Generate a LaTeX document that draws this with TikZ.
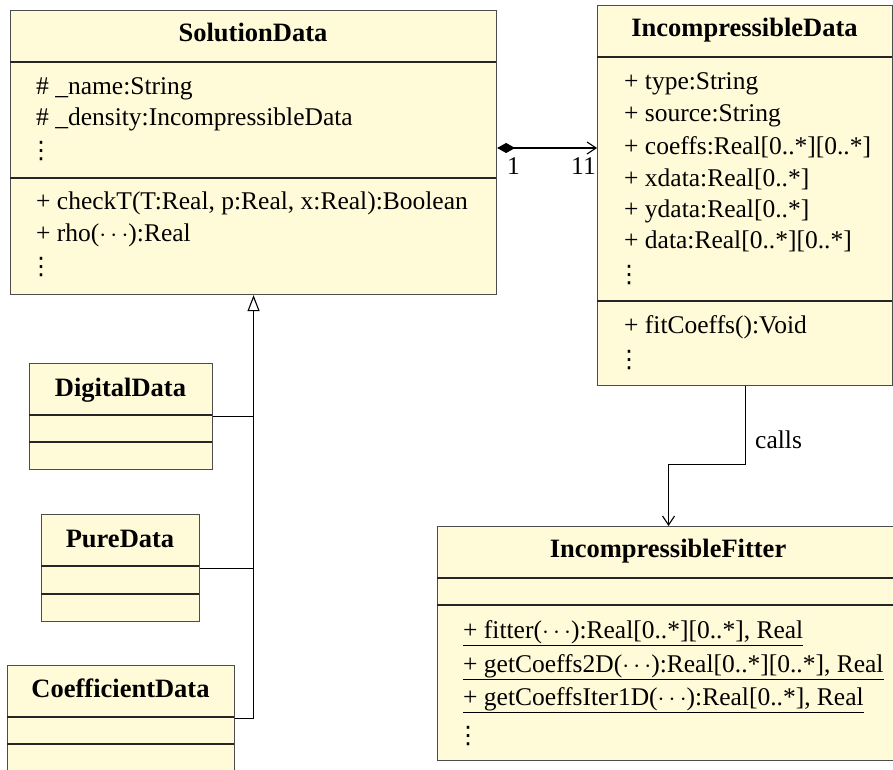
\documentclass[tikz,border=0pt]{standalone}
\usepackage{fontspec}
\setmainfont{Liberation Serif}
\newfontfamily\dvu{DejaVu Sans}
\usetikzlibrary{arrows.meta}
\definecolor{classfill}{RGB}{255,250,215}
\newcommand\vdts{{\dvu\fontsize{24}{24}\selectfont ⋮}}
\tikzset{
  classbox/.style={draw=black!70, fill=classfill, line width=1.1pt, rectangle, inner sep=0pt, anchor=north west},
  sepline/.style={draw=black!85, line width=1.1pt},
  txt/.style={anchor=base west, inner sep=0pt, font=\fontsize{25.5}{31}\selectfont},
  ttl/.style={anchor=base, inner sep=0pt, font=\fontsize{26.5}{31}\selectfont\bfseries},
  conn/.style={draw=black, line width=1.1pt},
}
\begin{document}
\begin{tikzpicture}[x=1pt,y=-1pt]
\useasboundingbox (0,0) rectangle (893,770);
\clip (0,0) rectangle (893,770);
% SolutionData
\node[classbox, minimum width=486pt, minimum height=284pt] (sd) at (10,10) {};
\draw[sepline] (10,62) -- (496,62);
\draw[sepline] (10,178) -- (496,178);
\node[ttl] (sdt) at (253,42) {SolutionData};
\node[txt] (sda1) at (36,95) {\# \_name:String};
\node[txt] (sda2) at (36,126) {\# \_density:IncompressibleData};
\node[txt] (sda3) at (29,159) {\vdts};
\node[txt] (sdm1) at (36,209) {+ checkT(T:Real, p:Real, x:Real):Boolean};
\node[txt] (sdm2) at (36,241) {+ rho($\cdots$):Real};
\node[txt] (sdm3) at (29,274) {\vdts};
% IncompressibleData
\node[classbox, minimum width=295pt, minimum height=380pt] (id) at (597,5) {};
\draw[sepline] (597,57) -- (892,57);
\draw[sepline] (597,301) -- (892,301);
\node[ttl] (idt) at (744.5,37) {IncompressibleData};
\node[txt] (ida1) at (624,90) {+ type:String};
\node[txt] (ida2) at (624,122) {+ source:String};
\node[txt] (ida3) at (624,155) {+ coeffs:Real[0..*][0..*]};
\node[txt] (ida4) at (624,186) {+ xdata:Real[0..*]};
\node[txt] (ida5) at (624,217) {+ ydata:Real[0..*]};
\node[txt] (ida6) at (624,248) {+ data:Real[0..*][0..*]};
\node[txt] (ida7) at (617,282) {\vdts};
\node[txt] (idm1) at (624,333) {+ fitCoeffs():Void};
\node[txt] (idm2) at (617,367) {\vdts};
% DigitalData
\node[classbox, minimum width=183pt, minimum height=106pt] (dd) at (29,363) {};
\draw[sepline] (29,415) -- (212,415);
\draw[sepline] (29,442) -- (212,442);
\node[ttl] (ddt) at (120.5,396) {DigitalData};
% PureData
\node[classbox, minimum width=158pt, minimum height=107pt] (pd) at (41,514) {};
\draw[sepline] (41,566) -- (199,566);
\draw[sepline] (41,594) -- (199,594);
\node[ttl] (pdt) at (120,547) {PureData};
% CoefficientData
\node[classbox, minimum width=227pt, minimum height=106pt] (cd) at (7,665) {};
\draw[sepline] (7,717) -- (234,717);
\draw[sepline] (7,744) -- (234,744);
\node[ttl] (cdt) at (120.5,697) {CoefficientData};
% IncompressibleFitter
\node[classbox, minimum width=462pt, minimum height=234pt] (fit) at (437,526) {};
\draw[sepline] (437,578) -- (899,578);
\draw[sepline] (437,605) -- (899,605);
\node[ttl] (fitt) at (668,557) {IncompressibleFitter};
\node[txt] (fm1) at (463,638) {\underline{+ fitter($\cdots$):Real[0..*][0..*], Real}};
\node[txt] (fm2) at (463,672) {\underline{+ getCoeffs2D($\cdots$):Real[0..*][0..*], Real}};
\node[txt] (fm3) at (463,705) {\underline{+ getCoeffsIter1D($\cdots$):Real[0..*], Real}};
\node[txt] (fm4) at (456,743) {\vdts};
% composition
\draw[conn, {Diamond[length=18pt,width=10pt]}-{Straight Barb[length=9pt,width=12pt]}] (sd.east |- 0,148) -- (id.west |- 0,148);
\node[txt] (m1) at (507,175) {1};
\node[txt] (m2) at (571,175) {11};
% generalization
\draw[conn] (dd.east) -- (dd.east -| sd.south);
\draw[conn] (pd.east) -- (pd.east -| sd.south);
\draw[conn, -{Triangle[open,length=16pt,width=12pt,fill=white]}] (cd.east) -| (sd.south);
% calls
\draw[conn, -{Straight Barb[length=9pt,width=12pt]}] (id.south) -- ++(0,78) -| (fit.north);
\node[txt] (calls) at (755,448) {calls};
\end{tikzpicture}
\end{document}
